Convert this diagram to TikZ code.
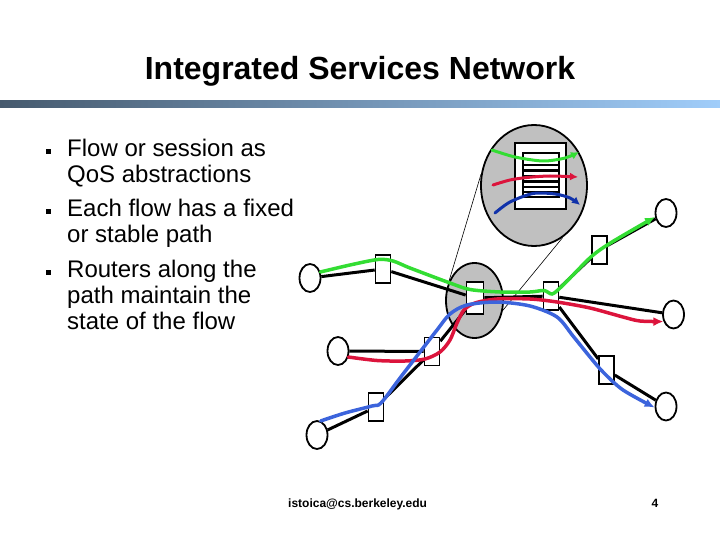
\documentclass[tikz,border=0pt]{standalone}
\usepackage{fontspec}
\setmainfont{Liberation Sans}
\usetikzlibrary{shapes.geometric,arrows.meta}
\definecolor{flowgreen}{RGB}{51,221,51}
\definecolor{flowred}{RGB}{220,20,60}
\definecolor{flowblue}{RGB}{60,100,220}
\definecolor{darkblue}{RGB}{16,50,170}
\definecolor{zoomgrey}{RGB}{192,192,192}
\definecolor{barleft}{RGB}{70,90,110}
\definecolor{barright}{RGB}{160,205,250}
\begin{document}
\begin{tikzpicture}[x=1pt,y=-1pt,
  host/.style={ellipse,draw,fill=white,line width=1.8pt,inner sep=0pt,minimum width=21pt,minimum height=28pt},
  router/.style={rectangle,draw,fill=white,line width=1.6pt,inner sep=0pt,minimum width=15pt,minimum height=28pt},
  greyell/.style={ellipse,draw,fill=zoomgrey,line width=1.8pt,inner sep=0pt},
  link/.style={line width=3pt,black},
  flow/.style={line width=3.5pt,line cap=round,-{Latex[length=10pt,width=9pt]}},
  zflow/.style={line width=3pt,line cap=round,-{Latex[length=8pt,width=8pt]}},
  zline/.style={line width=0.6pt,black},
  bulletsq/.style={rectangle,fill=black,inner sep=0pt,minimum size=5pt},
  txt/.style={anchor=base west,inner sep=0pt,font=\fontsize{24}{26}\selectfont},
  qbar/.style={line width=2.2pt,black}
]
\useasboundingbox (0,0) rectangle (720,540);

% title and bar
\node[anchor=base,inner sep=0pt,font=\fontsize{32}{38}\selectfont\bfseries] (title) at (360,80) {Integrated Services Network};
\shade[left color=barleft,right color=barright] (0,101) rectangle (720,108);

% bullets
\node[bulletsq] (b1) at (48.5,152) {};
\node[bulletsq] (b2) at (48.5,212) {};
\node[bulletsq] (b3) at (48.5,272) {};
\node[txt] (t1) at (67,157) {Flow or session as};
\node[txt] (t2) at (67,183) {QoS abstractions};
\node[txt] (t3) at (67,217) {Each flow has a fixed};
\node[txt] (t4) at (67,243) {or stable path};
\node[txt] (t5) at (67,277) {Routers along the};
\node[txt] (t6) at (67,303) {path maintain the};
\node[txt] (t7) at (67,329) {state of the flow};

% zoomed router view
\node[greyell,minimum width=106pt,minimum height=121pt] (zoom) at (534,185.5) {};
\node[rectangle,draw,fill=white,line width=1.5pt,inner sep=0pt,minimum width=51pt,minimum height=66pt] (page) at (540.5,176) {};
\draw[qbar] (523,153) rectangle (559,197);
\foreach \yy in {165,170.5,176,181.5,187,192}{\draw[qbar] (523,\yy) -- (559,\yy);}
\draw[zflow,flowgreen] plot[smooth] coordinates {(492,150) (515,157) (543,161) (565,158) (579,152)};
\draw[zflow,flowred] plot[smooth] coordinates {(493,185) (510,180) (527,177.5) (550,176) (578,177)};
\draw[zflow,darkblue] plot[smooth] coordinates {(495,213) (510,202) (533,193.5) (555,194) (570,198) (580,205)};

% small grey ellipse around central router
\node[greyell,minimum width=57pt,minimum height=75pt] (zsmall) at (474.5,300.5) {};
\draw[zline] (zoom.168.8) -- (zsmall.144.5);
\draw[zline] (zoom.-61.9) -- (zsmall.-19);

% hosts
\node[host] (h1) at (310,278) {};
\node[host] (h2) at (338,351) {};
\node[host] (h3) at (317,435) {};
\node[host] (h4) at (666,213) {};
\node[host] (h5) at (673.5,314.5) {};
\node[host] (h6) at (666,406.5) {};
% routers
\node[router] (r1) at (383,269) {};
\node[router] (r2) at (432,351.5) {};
\node[router] (r3) at (376,407) {};
\node[router,minimum width=17pt,minimum height=32pt] (r4) at (475,298) {};
\node[router] (r5) at (551,296) {};
\node[router] (r6) at (599.5,250) {};
\node[router] (r7) at (606.5,370) {};

% links
\draw[link] (h1) -- (r1);
\draw[link] (r1) -- (r4);
\draw[link] (h2) -- (r2);
\draw[link] (r2) -- (r4);
\draw[link] (h3) -- (r3);
\draw[link] (r3) -- (r2);
\draw[link] (r4) -- (r5);
\draw[link] (r5) -- (r6);
\draw[link] (r6) -- (h4);
\draw[link] (r5) -- (h5);
\draw[link] (r5) -- (r7);
\draw[link] (r7) -- (h6);

% flows
\draw[flow,flowgreen] plot[smooth] coordinates {(h1.30) (350,265) (378,259.5) (393,261) (410,268) (450,283) (470,289.5) (500,292) (530,292) (544,290.5) (552,294) (560,288) (572,276) (592,256) (612,242) (h4.200)};
\draw[flow,flowred] plot[smooth] coordinates {(h2.-30) (377,360.5) (405,361) (425,359) (440,352) (450,340) (457,323) (464,310) (475,303) (497,299) (530,299) (557,302) (590,308) (623,317) (640,321) (h5.215)};
\draw[flow,flowblue] plot[smooth] coordinates {(h3.75) (345,413) (372,406) (381,403) (400,378) (420,352) (437,330) (450,314) (467,305) (497,302) (530,306) (557,317) (573,336) (590,357) (603,372) (623,390) (h6.185)};

% footer
\node[anchor=base west,inner sep=0pt,font=\fontsize{12}{14}\selectfont\bfseries] (foot) at (288,507) {istoica@cs.berkeley.edu};
\node[anchor=base,inner sep=0pt,font=\fontsize{12}{14}\selectfont\bfseries] (pagenum) at (655,507) {4};
\end{tikzpicture}
\end{document}
